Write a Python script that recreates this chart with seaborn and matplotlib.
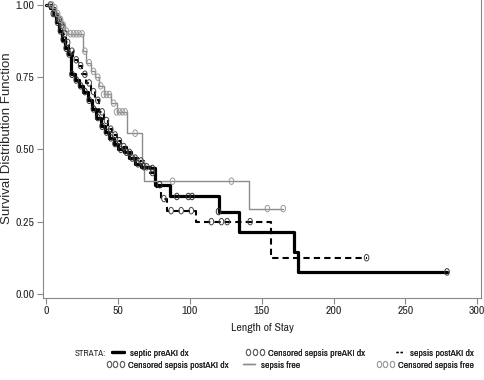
import numpy as np
import pandas as pd
import matplotlib
matplotlib.use("Agg")
import matplotlib.pyplot as plt
import seaborn as sns
from matplotlib import font_manager
from matplotlib.lines import Line2D
from matplotlib.markers import MarkerStyle
from matplotlib.transforms import Affine2D

# step curves (time, survival)
pre_t = [0, 3, 5, 7, 9, 11, 13, 15, 17, 20, 23, 26, 29, 32, 35, 38, 41, 44, 47, 50,
         54, 58, 62, 66, 72, 76, 86, 120, 134, 172.6, 175.4, 279]
pre_s = [1.0, .99, .97, .94, .91, .88, .85, .83, .76, .74, .72, .70, .67, .64, .61, .58,
         .56, .54, .52, .50, .49, .47, .45, .44, .434, .378, .337, .285, .215, .146, .076, .076]
pre_cens = [5, 8, 10, 12, 14, 16, 18, 21, 24, 27, 30, 33, 36, 39, 42, 45, 48, 52, 56, 60,
            64, 68, 74, 79, 91, 99, 101.6, 120, 279]

post_t = [0, 4, 6, 8, 10, 12, 14, 16, 19, 22, 25, 28, 31, 34, 37, 40, 43, 46, 49, 52,
          56, 60, 64, 68, 72, 76, 80, 84, 104, 156.6, 223]
post_s = [1.0, .99, .97, .95, .93, .90, .87, .84, .81, .79, .76, .73, .70, .67, .63, .60,
          .57, .55, .53, .51, .49, .47, .46, .44, .42, .37, .33, .288, .25, .125, .125]
post_cens = [3, 6, 9, 11, 13, 15, 18, 21, 24, 27, 30, 33, 36, 39, 42, 45, 48, 51, 54, 58,
             62, 66, 70, 74, 82, 87, 94, 101, 115, 122, 126, 142, 223]

free_t = [0, 5, 7, 9, 11, 13, 15, 26, 28, 31, 34, 37, 40, 45, 49, 56, 67, 68, 141, 165]
free_s = [1.0, .99, .97, .95, .93, .91, .90, .84, .80, .77, .75, .72, .69, .66, .63, .556,
          .46, .39, .295, .295]
free_cens = [4, 6, 8, 10, 12, 14, 17, 19, 21, 23, 25, 27, 30, 33, 36, 38, 40, 42, 44, 47,
             49, 51, 53, 55, 62, 88, 129, 154, 165]

x_ticks = [0, 50, 100, 150, 200, 250, 300]
y_ticks = [0.0, 0.25, 0.50, 0.75, 1.00]

sns.set_style("white")

# narrow face like the SAS output if one is there
have = {f.name for f in font_manager.fontManager.ttflist}
narrow = 'Liberation Sans'
for cand in ['Liberation Sans Narrow', 'Arial Narrow', 'Archivo Narrow', 'PT Sans Narrow',
             'Roboto Condensed', 'Fira Sans Condensed', 'IBM Plex Sans Condensed',
             'Asap Condensed', 'Barlow Condensed']:
    if cand in have:
        narrow = cand
        break
plt.rcParams['font.family'] = [narrow, 'DejaVu Sans']


def step_value(times, surv, t):
    i = np.searchsorted(times, t, side='right') - 1
    return np.asarray(surv)[i]


fig = plt.figure(figsize=(4.84, 3.80), dpi=100)
ax = fig.add_axes([0.089, 0.216, 0.905, 0.784])

ell = MarkerStyle('o', transform=Affine2D().scale(0.7, 1.0))

groups = [
    (pre_t, pre_s, pre_cens, dict(color='black', lw=2.3, ls='-'), '#333333'),
    (post_t, post_s, post_cens, dict(color='black', lw=1.5, ls=(0, (3, 2))), '#444444'),
    (free_t, free_s, free_cens, dict(color='#8c8c8c', lw=1.0, ls='-'), '#9a9a9a'),
]
for t, s, c, style, mcol in groups:
    d = pd.DataFrame({'t': t, 's': s})
    sns.lineplot(data=d, x='t', y='s', drawstyle='steps-post', estimator=None,
                 ax=ax, **style)
    cd = pd.DataFrame({'t': c, 's': [step_value(t, s, v) for v in c]})
    sns.scatterplot(data=cd, x='t', y='s', marker=ell, s=22, facecolor='none',
                    edgecolor=mcol, linewidth=0.7, ax=ax, zorder=3)

ax.set_xlim(-2.1, 302.7)
ax.set_ylim(-0.014, 1.017)
ax.set_xticks(x_ticks)
ax.set_yticks(y_ticks)
ax.set_yticklabels([f"{v:.2f}" for v in y_ticks])
ax.tick_params(axis='both', direction='out', length=4, width=0.8, color='#888888',
               labelsize=8.5, pad=2, bottom=True, left=True)
for side in ['left', 'bottom', 'right']:
    ax.spines[side].set_color('#888888')
    ax.spines[side].set_linewidth(0.8)
ax.spines['top'].set_visible(False)
ax.set_xlabel('Length of Stay', fontsize=8.5, labelpad=5)
ax.set_ylabel('Survival Distribution Function', fontsize=9.5,
              family=['Liberation Sans', 'DejaVu Sans'], va='center')
ax.yaxis.set_label_coords(-0.083, 0.535)

cmark = dict(marker=ell, ls='none', markerfacecolor='none', markersize=4.5,
             markeredgewidth=0.7)
# SAS places each legend row on its own, so every entry gets a spot (px from top-left)
entries = [
    (109, 353, Line2D([], [], color='black', lw=2.3), 'septic preAKI dx', 1.8),
    (245, 353, Line2D([], [], markeredgecolor='#666666', **cmark), 'Censored sepsis preAKI dx', 2.0),
    (393, 353, Line2D([], [], color='black', lw=1.0, ls=(0, (1.5, 1.5))), 'sepsis postAKI dx', 1.4),
    (106, 365, Line2D([], [], markeredgecolor='#666666', **cmark), 'Censored sepsis postAKI dx', 1.9),
    (240, 365, Line2D([], [], color='#8c8c8c', lw=1.0), 'sepsis free', 1.8),
    (376, 365, Line2D([], [], markeredgecolor='#a0a0a0', **cmark), 'Censored sepsis free', 1.9),
]
for px, py, h, lab, hl in entries:
    leg = fig.legend([h], [lab], loc='center left', bbox_to_anchor=(px / 484, 1 - py / 380),
                     frameon=False, fontsize=7, numpoints=3, handlelength=hl,
                     handletextpad=0.35, borderpad=0, borderaxespad=0)
    fig.add_artist(leg)
fig.text(75 / 484, 1 - 353 / 380, 'STRATA:', fontsize=6.5, ha='left', va='center')

fig.savefig('out.png', dpi=100)
